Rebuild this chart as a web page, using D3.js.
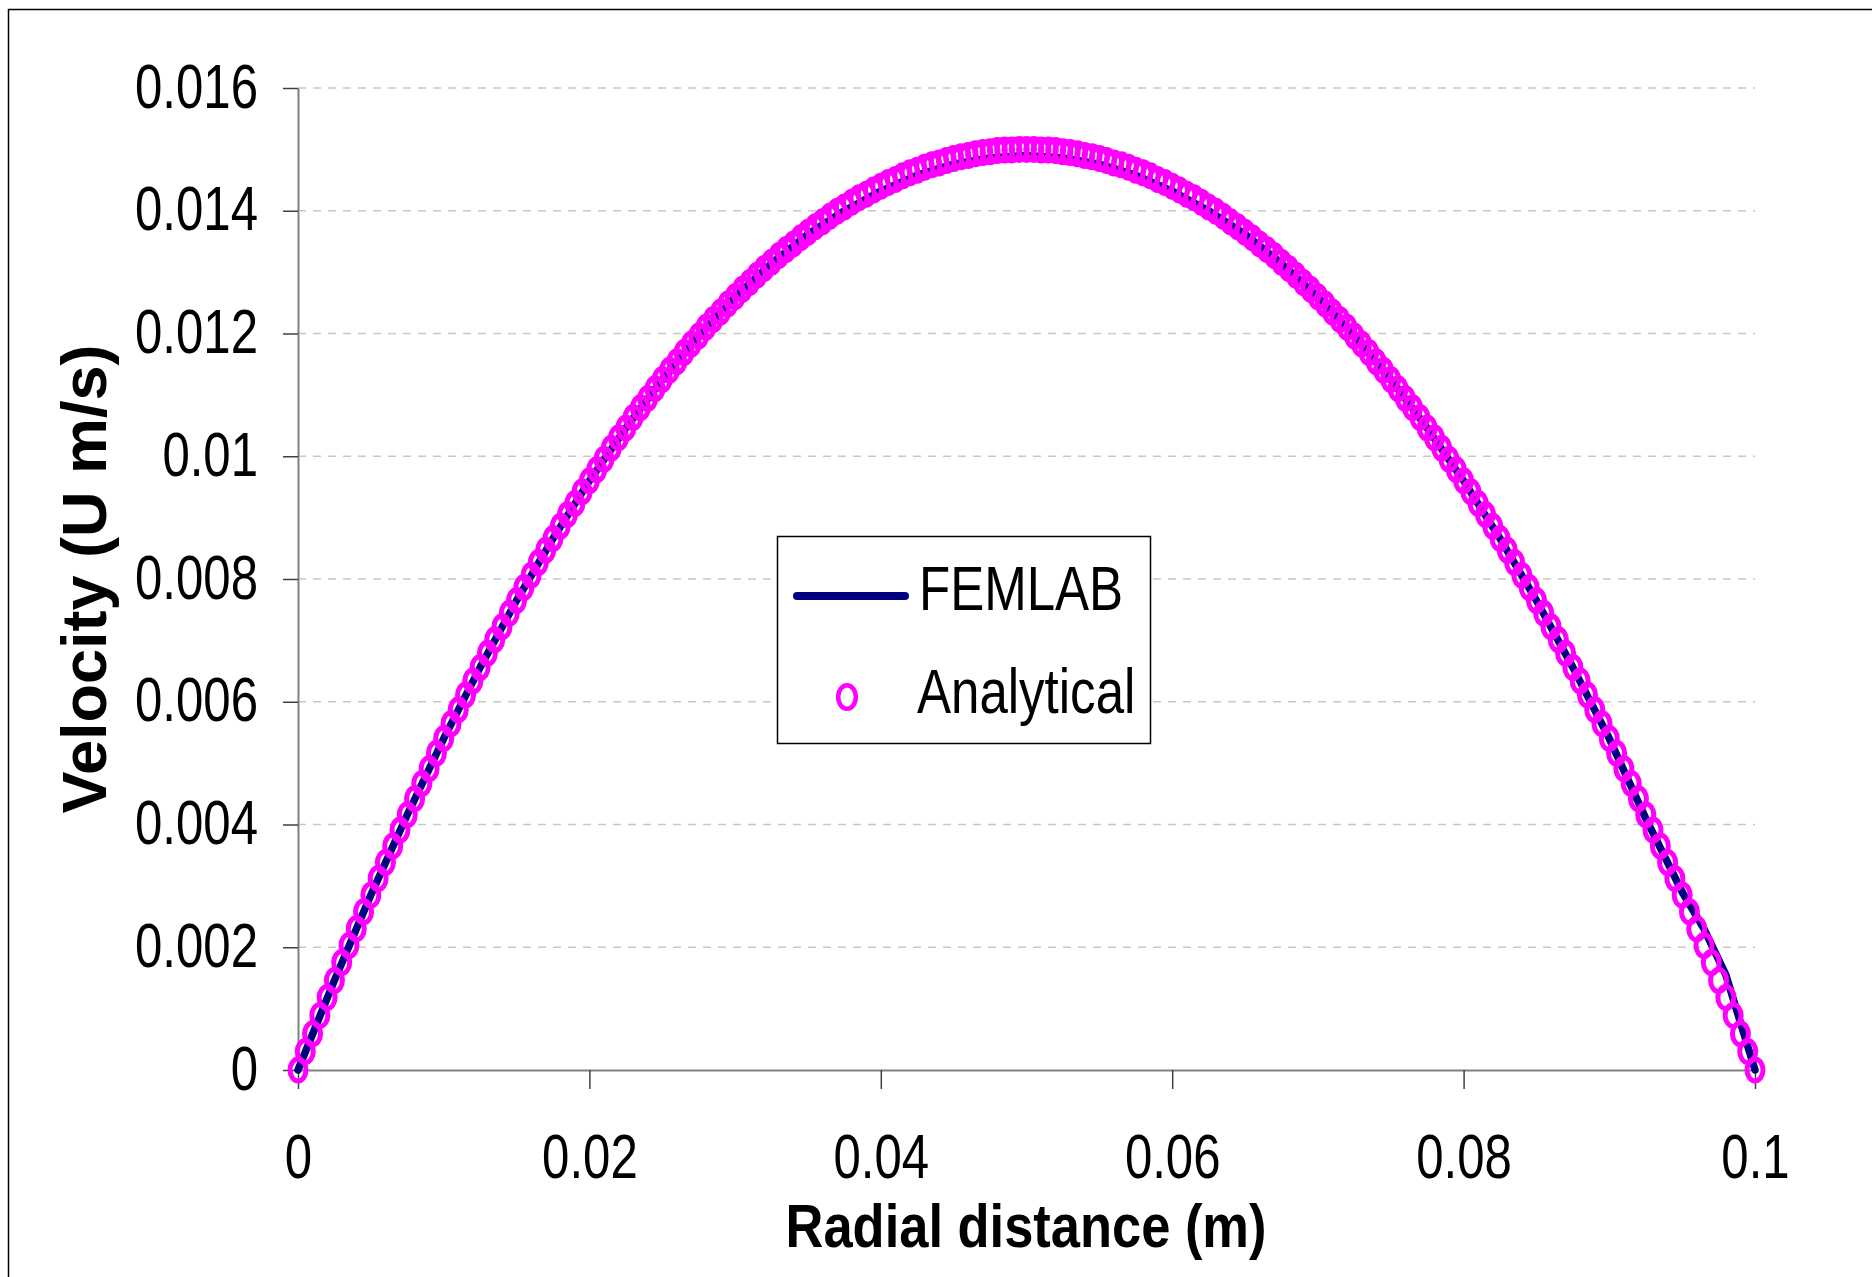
<!DOCTYPE html>
<html>
<head>
<meta charset="utf-8">
<script src="https://cdn.jsdelivr.net/npm/d3@7"></script>
<style>
  body { margin: 0; background: #fff; }
  text { font-family: "Liberation Sans", Arial, sans-serif; }
</style>
</head>
<body>
<div id="chart"></div>
<script>
//////////////////////////////////////////////////////////////////////////////
// Data

// Analytical profile: radial distance (m)
var analyticalR = [
  0, 0.0005, 0.001, 0.0015, 0.002, 0.0025, 0.003, 0.0035, 0.004, 0.0045,
  0.005, 0.0055, 0.006, 0.0065, 0.007, 0.0075, 0.008, 0.0085, 0.009, 0.0095,
  0.01, 0.0105, 0.011, 0.0115, 0.012, 0.0125, 0.013, 0.0135, 0.014, 0.0145,
  0.015, 0.0155, 0.016, 0.0165, 0.017, 0.0175, 0.018, 0.0185, 0.019, 0.0195,
  0.02, 0.0205, 0.021, 0.0215, 0.022, 0.0225, 0.023, 0.0235, 0.024, 0.0245,
  0.025, 0.0255, 0.026, 0.0265, 0.027, 0.0275, 0.028, 0.0285, 0.029, 0.0295,
  0.03, 0.0305, 0.031, 0.0315, 0.032, 0.0325, 0.033, 0.0335, 0.034, 0.0345,
  0.035, 0.0355, 0.036, 0.0365, 0.037, 0.0375, 0.038, 0.0385, 0.039, 0.0395,
  0.04, 0.0405, 0.041, 0.0415, 0.042, 0.0425, 0.043, 0.0435, 0.044, 0.0445,
  0.045, 0.0455, 0.046, 0.0465, 0.047, 0.0475, 0.048, 0.0485, 0.049, 0.0495,
  0.05, 0.0505, 0.051, 0.0515, 0.052, 0.0525, 0.053, 0.0535, 0.054, 0.0545,
  0.055, 0.0555, 0.056, 0.0565, 0.057, 0.0575, 0.058, 0.0585, 0.059, 0.0595,
  0.06, 0.0605, 0.061, 0.0615, 0.062, 0.0625, 0.063, 0.0635, 0.064, 0.0645,
  0.065, 0.0655, 0.066, 0.0665, 0.067, 0.0675, 0.068, 0.0685, 0.069, 0.0695,
  0.07, 0.0705, 0.071, 0.0715, 0.072, 0.0725, 0.073, 0.0735, 0.074, 0.0745,
  0.075, 0.0755, 0.076, 0.0765, 0.077, 0.0775, 0.078, 0.0785, 0.079, 0.0795,
  0.08, 0.0805, 0.081, 0.0815, 0.082, 0.0825, 0.083, 0.0835, 0.084, 0.0845,
  0.085, 0.0855, 0.086, 0.0865, 0.087, 0.0875, 0.088, 0.0885, 0.089, 0.0895,
  0.09, 0.0905, 0.091, 0.0915, 0.092, 0.0925, 0.093, 0.0935, 0.094, 0.0945,
  0.095, 0.0955, 0.096, 0.0965, 0.097, 0.0975, 0.098, 0.0985, 0.099, 0.0995,
  0.1
];

// Analytical profile: velocity (m/s)
var analyticalU = [
  0, 0.00030, 0.00059, 0.00089, 0.00118, 0.00146, 0.00175, 0.00203, 0.00230, 0.00258,
  0.00285, 0.00312, 0.00338, 0.00365, 0.00391, 0.00416, 0.00442, 0.00467, 0.00491, 0.00516,
  0.00540, 0.00564, 0.00587, 0.00611, 0.00634, 0.00656, 0.00679, 0.00701, 0.00722, 0.00744,
  0.00765, 0.00786, 0.00806, 0.00827, 0.00847, 0.00866, 0.00886, 0.00905, 0.00923, 0.00942,
  0.00960, 0.00978, 0.00995, 0.01013, 0.01030, 0.01046, 0.01063, 0.01079, 0.01094, 0.01110,
  0.01125, 0.01140, 0.01154, 0.01169, 0.01183, 0.01196, 0.01210, 0.01223, 0.01235, 0.01248,
  0.01260, 0.01272, 0.01283, 0.01295, 0.01306, 0.01316, 0.01327, 0.01337, 0.01346, 0.01356,
  0.01365, 0.01374, 0.01382, 0.01391, 0.01399, 0.01406, 0.01414, 0.01421, 0.01427, 0.01434,
  0.01440, 0.01446, 0.01451, 0.01457, 0.01462, 0.01466, 0.01471, 0.01475, 0.01478, 0.01482,
  0.01485, 0.01488, 0.01490, 0.01493, 0.01495, 0.01496, 0.01498, 0.01499, 0.01499, 0.01500,
  0.01500, 0.01500, 0.01499, 0.01499, 0.01498, 0.01496, 0.01495, 0.01493, 0.01490, 0.01488,
  0.01485, 0.01482, 0.01478, 0.01475, 0.01471, 0.01466, 0.01462, 0.01457, 0.01451, 0.01446,
  0.01440, 0.01434, 0.01427, 0.01421, 0.01414, 0.01406, 0.01399, 0.01391, 0.01382, 0.01374,
  0.01365, 0.01356, 0.01346, 0.01337, 0.01327, 0.01316, 0.01306, 0.01295, 0.01283, 0.01272,
  0.01260, 0.01248, 0.01235, 0.01223, 0.01210, 0.01196, 0.01183, 0.01169, 0.01154, 0.01140,
  0.01125, 0.01110, 0.01094, 0.01079, 0.01063, 0.01046, 0.01030, 0.01013, 0.00995, 0.00978,
  0.00960, 0.00942, 0.00923, 0.00905, 0.00886, 0.00866, 0.00847, 0.00827, 0.00806, 0.00786,
  0.00765, 0.00744, 0.00722, 0.00701, 0.00679, 0.00656, 0.00634, 0.00611, 0.00587, 0.00564,
  0.00540, 0.00516, 0.00491, 0.00467, 0.00442, 0.00416, 0.00391, 0.00365, 0.00338, 0.00312,
  0.00285, 0.00258, 0.00230, 0.00203, 0.00175, 0.00146, 0.00118, 0.00089, 0.00059, 0.00030,
  0
];

// FEMLAB solution (line): radial distance (m) and velocity (m/s)
var femlabR = [
  0, 0.0025, 0.005, 0.0075, 0.01, 0.0125, 0.015, 0.0175, 0.02, 0.0225,
  0.025, 0.0275, 0.03, 0.0325, 0.035, 0.0375, 0.04, 0.0425, 0.045, 0.0475,
  0.05, 0.0525, 0.055, 0.0575, 0.06, 0.0625, 0.065, 0.0675, 0.07, 0.0725,
  0.075, 0.0775, 0.08, 0.0825, 0.085, 0.0875, 0.09, 0.0925, 0.095, 0.0965,
  0.098, 0.1
];
var femlabU = [
  0, 0.00146, 0.00285, 0.00416, 0.00540, 0.00656, 0.00765, 0.00866, 0.00960, 0.01046,
  0.01125, 0.01196, 0.01260, 0.01314, 0.01362, 0.01400, 0.01432, 0.01458, 0.01476, 0.01486,
  0.01490, 0.01486, 0.01476, 0.01458, 0.01432, 0.01400, 0.01362, 0.01314, 0.01260, 0.01196,
  0.01125, 0.01046, 0.00960, 0.00866, 0.00765, 0.00656, 0.00540, 0.00410, 0.00290, 0.00230,
  0.00155, 0
];

var xTicks = [0, 0.02, 0.04, 0.06, 0.08, 0.1];
var xTickLabels = ["0", "0.02", "0.04", "0.06", "0.08", "0.1"];
var yTicks = [0, 0.002, 0.004, 0.006, 0.008, 0.01, 0.012, 0.014, 0.016];
var yTickLabels = ["0", "0.002", "0.004", "0.006", "0.008", "0.01", "0.012", "0.014", "0.016"];

var seriesNames = ["FEMLAB", "Analytical"];
var xTitle = "Radial distance (m)";
var yTitle = "Velocity (U m/s)";

//////////////////////////////////////////////////////////////////////////////
// Layout

var svgWidth = 1872;
var svgHeight = 1277;

var xScale = d3.scaleLinear().domain([0, 0.1]).range([298, 1755]);
var yScale = d3.scaleLinear().domain([0, 0.016]).range([1070, 88]);

var lineColor = "#000080";
var markerColor = "#ff00ff";

var svg = d3.select("#chart")
    .append("svg")
    .attr("width", svgWidth)
    .attr("height", svgHeight)
    .style("display", "block");

svg.append("rect")
    .attr("width", svgWidth)
    .attr("height", svgHeight)
    .attr("fill", "#fff");

// outer chart frame (right and bottom edges fall outside the picture)
svg.append("rect")
    .attr("x", 8.5)
    .attr("y", 9.5)
    .attr("width", 2000)
    .attr("height", 2000)
    .attr("fill", "none")
    .attr("stroke", "#000")
    .attr("stroke-width", 1.5);

// horizontal dashed gridlines
svg.append("g")
    .selectAll("line")
    .data(yTicks.filter(function(d) { return d > 0; }))
    .enter()
    .append("line")
    .attr("x1", xScale(0))
    .attr("x2", xScale(0.1))
    .attr("y1", function(d) { return yScale(d); })
    .attr("y2", function(d) { return yScale(d); })
    .attr("stroke", "#c8c8c8")
    .attr("stroke-width", 1.5)
    .attr("stroke-dasharray", "8,7");

//////////////////////////////////////////////////////////////////////////////
// Axes

var yAxis = svg.append("g")
    .attr("transform", "translate(" + xScale(0) + ",0)")
    .call(d3.axisLeft(yScale)
        .tickValues(yTicks)
        .tickSize(15)
        .tickSizeOuter(0)
        .tickFormat(function(d, i) { return yTickLabels[i]; }));

var xAxis = svg.append("g")
    .attr("transform", "translate(0," + yScale(0) + ")")
    .call(d3.axisBottom(xScale)
        .tickValues(xTicks)
        .tickSize(19)
        .tickSizeOuter(0)
        .tickFormat(function(d, i) { return xTickLabels[i]; }));

[xAxis, yAxis].forEach(function(ax) {
    ax.select(".domain").attr("stroke", "#808080").attr("stroke-width", 2);
    ax.selectAll(".tick line").attr("stroke", "#404040").attr("stroke-width", 1.5);
    ax.selectAll(".tick text")
        .attr("fill", "#000")
        .style("font-size", "63px")
        .attr("x", 0)
        .attr("y", 0)
        .attr("dy", null);
});

yAxis.selectAll(".tick text")
    .attr("text-anchor", "end")
    .attr("transform", "translate(-40,19) scale(0.78,1)");

xAxis.selectAll(".tick text")
    .attr("text-anchor", "middle")
    .attr("transform", "translate(0,108) scale(0.78,1)");

// axis titles
svg.append("text")
    .attr("transform", "translate(1026,1247) scale(0.86,1)")
    .attr("text-anchor", "middle")
    .style("font-size", "61px")
    .style("font-weight", "bold")
    .text(xTitle);

svg.append("text")
    .attr("transform", "translate(106,579) rotate(-90)")
    .attr("text-anchor", "middle")
    .style("font-size", "63px")
    .style("font-weight", "bold")
    .text(yTitle);

//////////////////////////////////////////////////////////////////////////////
// Series

var femlabData = femlabR.map(function(r, i) { return { r: r, u: femlabU[i] }; });
var analyticalData = analyticalR.map(function(r, i) { return { r: r, u: analyticalU[i] }; });

var line = d3.line()
    .x(function(d) { return xScale(d.r); })
    .y(function(d) { return yScale(d.u); });

svg.append("path")
    .datum(femlabData)
    .attr("d", line)
    .attr("fill", "none")
    .attr("stroke", lineColor)
    .attr("stroke-width", 7.5)
    .attr("stroke-linejoin", "round")
    .attr("stroke-linecap", "round");

svg.append("g")
    .selectAll("ellipse")
    .data(analyticalData)
    .enter()
    .append("ellipse")
    .attr("cx", function(d) { return xScale(d.r); })
    .attr("cy", function(d) { return yScale(d.u); })
    .attr("rx", 8)
    .attr("ry", 11)
    .attr("fill", "none")
    .attr("stroke", markerColor)
    .attr("stroke-width", 5);

//////////////////////////////////////////////////////////////////////////////
// Legend

var legend = svg.append("g");

legend.append("rect")
    .attr("x", 777.5)
    .attr("y", 536.5)
    .attr("width", 373)
    .attr("height", 207)
    .attr("fill", "#fff")
    .attr("stroke", "#000")
    .attr("stroke-width", 1.5);

legend.append("line")
    .attr("x1", 797)
    .attr("x2", 905)
    .attr("y1", 596)
    .attr("y2", 596)
    .attr("stroke", lineColor)
    .attr("stroke-width", 8)
    .attr("stroke-linecap", "round");

legend.append("ellipse")
    .attr("cx", 847)
    .attr("cy", 697)
    .attr("rx", 8.8)
    .attr("ry", 11.8)
    .attr("fill", "none")
    .attr("stroke", markerColor)
    .attr("stroke-width", 4.5);

legend.selectAll("text.label")
    .data(seriesNames)
    .enter()
    .append("text")
    .attr("class", "label")
    .attr("transform", function(d, i) {
        return "translate(" + (i === 0 ? 919 : 917) + "," + (i === 0 ? 610 : 713) + ") scale(0.81,1)";
    })
    .style("font-size", "63px")
    .text(function(d) { return d; });
</script>
</body>
</html>
